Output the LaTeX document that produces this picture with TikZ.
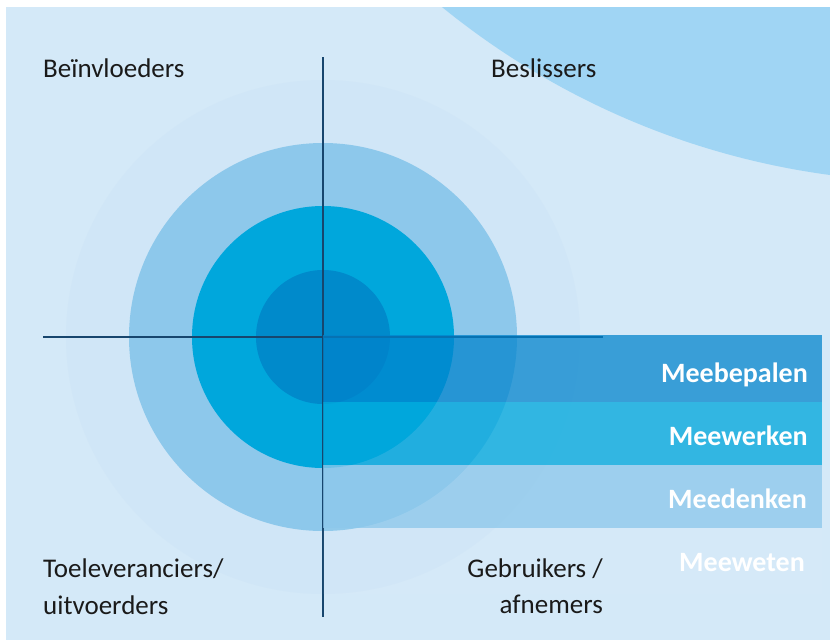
\documentclass[tikz,border=0pt]{standalone}
\usepackage{fontspec}
\setmainfont{Carlito}
\definecolor{bgc}{HTML}{D4E9F8}
\definecolor{arcc}{HTML}{A0D5F4}
\definecolor{faintc}{HTML}{D0E6F7}
\definecolor{ringA}{HTML}{8DC8EB}
\definecolor{ringB}{HTML}{00A7DC}
\definecolor{ringC}{HTML}{008ACB}
\definecolor{axisc}{HTML}{17466E}
\definecolor{bandA}{HTML}{0083CC}
\definecolor{txtc}{HTML}{1A1A1A}
\begin{document}
\begin{tikzpicture}[x=1pt,y=-1pt,
  lab/.style={inner sep=0pt, text=txtc, font=\fontsize{27}{30}\selectfont},
  bandlab/.style={inner sep=0pt, text=white, anchor=base east, font=\fontsize{28}{30}\selectfont\bfseries},
  axis/.style={draw=axisc, line width=1.2pt}]
\useasboundingbox (0,0) rectangle (830,640);
\fill[white] (0,0) rectangle (830,640);
\fill[bgc] (6,7) rectangle (830,640);
\begin{scope}
  \clip (6,7) rectangle (830,640);
  \fill[arcc] (935,-600) circle (782pt);
\end{scope}
% concentric circles
\coordinate (c) at (323,337);
\fill[faintc] (c) circle (257pt);
\fill[ringA] (c) circle (194pt);
\fill[ringB] (c) circle (131pt);
\fill[ringC] (c) circle (67pt);
% axes
\coordinate (vt) at (323,57);
\coordinate (vb) at (323,617);
\coordinate (hl) at (43,337);
\coordinate (hr) at (603,337);
\draw[axis] (vt) -- (vb);
\draw[axis] (hl) -- (hr);
% bands
\fill[bandA, opacity=0.73] (323,335) rectangle (822,402);
\fill[ringB, opacity=0.76] (323,402) rectangle (822,465);
\fill[ringA, opacity=0.77] (323,465) rectangle (822,528);
\fill[white, opacity=0.04] (323,528) rectangle (822,594);
% band labels
\node[bandlab] (b1) at (808,382) {Meebepalen};
\node[bandlab] (b2) at (808,445) {Meewerken};
\node[bandlab] (b3) at (807,508) {Meedenken};
\node[bandlab] (b4) at (805,571) {Meeweten};
% quadrant labels
\node[lab, anchor=base west] (q1) at (43,77) {Beïnvloeders};
\node[lab, anchor=base west] (q2) at (491,77) {Beslissers};
\node[lab, anchor=base west] (q3a) at (43,577) {Toeleveranciers/};
\node[lab, anchor=base west] (q3b) at (43,614) {uitvoerders};
\node[lab, anchor=base east] (q4a) at (603,577) {Gebruikers /};
\node[lab, anchor=base east] (q4b) at (603,613) {afnemers};
\end{tikzpicture}
\end{document}
